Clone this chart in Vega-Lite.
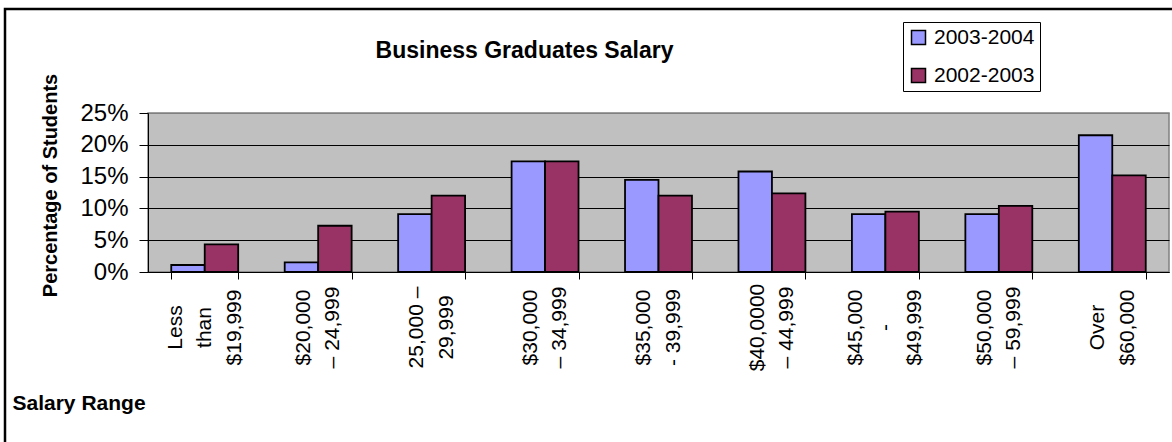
{
  "$schema": "https://vega.github.io/schema/vega-lite/v6.json",
  "width": 1021,
  "height": 159,
  "autosize": {"type": "none"},
  "padding": {"left": 148, "top": 113, "right": 3, "bottom": 170},
  "background": "white",
  "config": {
    "font": "Liberation Sans",
    "view": {"fill": "#C0C0C0", "stroke": "#808080", "strokeWidth": 1.5}
  },
  "title": {
    "text": "Business Graduates Salary",
    "font": "Liberation Sans",
    "fontSize": 23,
    "fontWeight": "bold",
    "color": "black",
    "anchor": "middle",
    "frame": "group",
    "dx": -134,
    "offset": -55
  },
  "data": {
    "values": [
      {"range": "Less|than|$19,999", "series": "2003-2004", "pct": 0.011},
      {"range": "Less|than|$19,999", "series": "2002-2003", "pct": 0.0435},
      {"range": "$20,000|– 24,999", "series": "2003-2004", "pct": 0.015},
      {"range": "$20,000|– 24,999", "series": "2002-2003", "pct": 0.0727},
      {"range": "25,000 –|29,999", "series": "2003-2004", "pct": 0.091},
      {"range": "25,000 –|29,999", "series": "2002-2003", "pct": 0.120},
      {"range": "$30,000|– 34,999", "series": "2003-2004", "pct": 0.174},
      {"range": "$30,000|– 34,999", "series": "2002-2003", "pct": 0.174},
      {"range": "$35,000|- 39,999", "series": "2003-2004", "pct": 0.145},
      {"range": "$35,000|- 39,999", "series": "2002-2003", "pct": 0.120},
      {"range": "$40,0000|– 44,999", "series": "2003-2004", "pct": 0.158},
      {"range": "$40,0000|– 44,999", "series": "2002-2003", "pct": 0.1236},
      {"range": "$45,000|-|$49,999", "series": "2003-2004", "pct": 0.091},
      {"range": "$45,000|-|$49,999", "series": "2002-2003", "pct": 0.095},
      {"range": "$50,000|– 59,999", "series": "2003-2004", "pct": 0.091},
      {"range": "$50,000|– 59,999", "series": "2002-2003", "pct": 0.104},
      {"range": "Over|$60,000", "series": "2003-2004", "pct": 0.215},
      {"range": "Over|$60,000", "series": "2002-2003", "pct": 0.152}
    ]
  },
  "layer": [
    {
      "data": {"values": [{"fx0": 0, "fx1": 1, "fy0": 0, "fy1": 1}]},
      "mark": {"type": "rect", "fill": "transparent", "stroke": "black", "strokeWidth": 2.5},
      "encoding": {
        "x": {"field": "fx0", "type": "quantitative", "scale": {"domain": [0, 1], "range": [-143, 1035]}, "axis": null},
        "x2": {"field": "fx1"},
        "y": {"field": "fy0", "type": "quantitative", "scale": {"domain": [0, 1], "range": [-104, 345]}, "axis": null},
        "y2": {"field": "fy1"}
      }
    },
    {
      "mark": {"type": "bar", "stroke": "black", "strokeWidth": 1.8},
      "encoding": {
        "x": {
          "field": "range",
          "type": "nominal",
          "sort": null,
          "scale": {"paddingInner": 0.41, "paddingOuter": 0.205},
          "axis": {
            "title": "Salary Range",
            "titleFontSize": 21,
            "titleFontWeight": "bold",
            "titleColor": "black",
            "titleX": -136,
            "titleY": 131,
            "titleAlign": "left",
            "titleBaseline": "middle",
            "titleAngle": 0,
            "labelExpr": "split(datum.label, '|')",
            "labelAngle": 270,
            "labelAlign": "center",
            "labelBaseline": "middle",
            "labelFontSize": 21,
            "labelColor": "black",
            "labelLineHeight": 29.5,
            "labelPadding": 48,
            "labelOffset": {"condition": {"test": "length(split(datum.value, '|')) === 3", "value": -29.5}, "value": -14.75},
            "labelLimit": 500,
            "labelBound": false,
            "labelOverlap": false,
            "tickSize": 7,
            "tickColor": "black",
            "domainColor": "black",
            "tickBand": "extent",
            "grid": false
          }
        },
        "xOffset": {"field": "series", "type": "nominal", "sort": ["2003-2004", "2002-2003"]},
        "y": {
          "field": "pct",
          "type": "quantitative",
          "scale": {"domain": [0, 0.25], "nice": false},
          "axis": {
            "title": "Percentage of Students",
            "titleFontSize": 20,
            "titleFontWeight": "bold",
            "titleColor": "black",
            "titleX": -98,
            "titleY": 72,
            "titleAngle": 270,
            "titleAlign": "center",
            "titleBaseline": "middle",
            "values": [0, 0.05, 0.1, 0.15, 0.2, 0.25],
            "format": ".0%",
            "labelFontSize": 24,
            "labelColor": "black",
            "labelPadding": 11,
            "labelBound": false,
            "labelFlush": false,
            "labelOverlap": false,
            "tickSize": 9,
            "tickColor": "black",
            "domainColor": "black",
            "grid": true,
            "gridColor": {"condition": {"test": "datum.value >= 0.25", "value": "#808080"}, "value": "black"},
            "gridWidth": 1
          }
        },
        "color": {
          "field": "series",
          "type": "nominal",
          "sort": ["2003-2004", "2002-2003"],
          "scale": {"domain": ["2003-2004", "2002-2003"], "range": ["#9999FF", "#993366"]},
          "legend": {
            "title": null,
            "orient": "none",
            "legendX": 755,
            "legendY": -91,
            "direction": "vertical",
            "symbolType": "square",
            "symbolSize": 196,
            "symbolStrokeColor": "black",
            "symbolStrokeWidth": 1.5,
            "symbolOpacity": 1,
            "labelFontSize": 21,
            "labelColor": "black",
            "labelOffset": 5,
            "rowPadding": 16,
            "padding": 5,
            "strokeColor": "black",
            "fillColor": "white"
          }
        }
      }
    }
  ],
  "resolve": {"scale": {"x": "independent", "y": "independent"}}
}
